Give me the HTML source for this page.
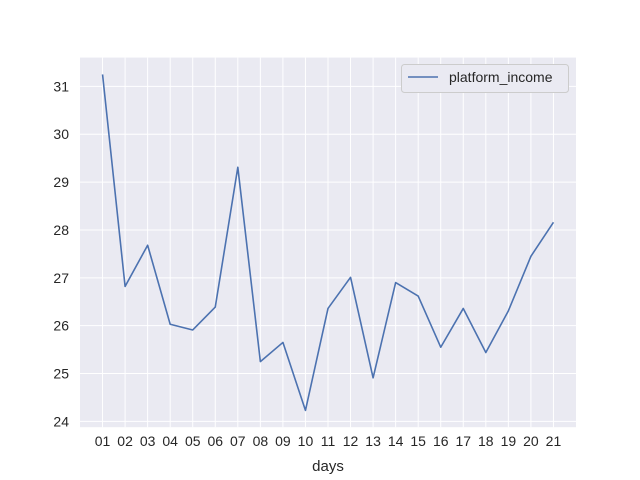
<!DOCTYPE html>
<html><head><meta charset="utf-8"><style>
body{margin:0;background:#fff}
svg{display:block;font-family:"Liberation Sans",Arial,sans-serif}
</style></head><body>
<svg id="chart" width="640" height="480"></svg>
<script>
const categories=["01","02","03","04","05","06","07","08","09","10","11","12","13","14","15","16","17","18","19","20","21"];
const incomeValues=[31.25,26.82,27.68,26.03,25.91,26.39,29.31,25.25,25.65,24.23,26.36,27.01,24.91,26.9,26.62,25.55,26.36,25.44,26.31,27.45,28.16];
const yTicks=[24,25,26,27,28,29,30,31];
const seriesName="platform_income";
const xAxisLabel="days";

const L=80,R=576,T=57.6,B=427.2;
const mn=Math.min(...incomeValues),mx=Math.max(...incomeValues),pad=(mx-mn)*0.05;
const y0=mn-pad,y1=mx+pad;
const n=categories.length;
const xs=i=>L+(i+1)*(R-L)/(n+1);
const ys=v=>B-(v-y0)/(y1-y0)*(B-T);
const NS="http://www.w3.org/2000/svg";
const svg=document.getElementById('chart');
function mk(tag,attrs,parent){const e=document.createElementNS(NS,tag);for(const k in attrs)e.setAttribute(k,attrs[k]);(parent||svg).appendChild(e);return e;}
const bg=mk('rect',{x:L,y:T,width:R-L,height:B-T,fill:'#eaeaf2'});


const grid=mk('g',{});


categories.forEach((c,i)=>{
  mk('line',{x1:xs(i),x2:xs(i),y1:T,y2:B,stroke:'#fff','stroke-width':1},grid);
  const t=mk('text',{x:xs(i),y:B+19,'text-anchor':'middle','font-size':14,fill:'#262626'});
  t.textContent=c;
  
  
});
yTicks.forEach(v=>{
  mk('line',{x1:L,x2:R,y1:ys(v),y2:ys(v),stroke:'#fff','stroke-width':1},grid);
  const t=mk('text',{x:L-11,y:ys(v)+5,'text-anchor':'end','font-size':14,fill:'#262626'});
  t.textContent=v;
  
  
});
const pts=incomeValues.map((v,i)=>xs(i).toFixed(2)+','+ys(v).toFixed(2)).join(' ');
const line=mk('polyline',{points:pts,fill:'none',stroke:'#4c72b0','stroke-width':1.6,'stroke-linejoin':'round'});


const xl=mk('text',{x:(L+R)/2,y:471,'text-anchor':'middle','font-size':15,fill:'#262626'});
xl.textContent=xAxisLabel;


const lg=mk('g',{});


mk('rect',{x:401.5,y:64.5,width:167,height:28,rx:3,fill:'#eaeaf2',stroke:'#cccccc','stroke-width':1},lg);
mk('line',{x1:408,x2:438,y1:77,y2:77,stroke:'#4c72b0','stroke-width':1.6},lg);
const lt=mk('text',{x:449,y:82,'font-size':14,fill:'#262626'},lg);
lt.textContent=seriesName;


</script>
</body></html>
